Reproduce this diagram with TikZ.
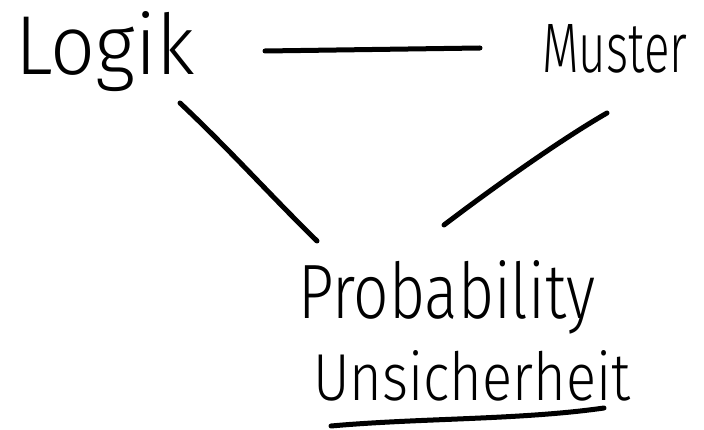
\documentclass[tikz,border=0pt]{standalone}
\usepackage{fontspec}
\setmainfont{Fira Sans}[UprightFont=* Light]
\usepackage{graphicx}
\newcommand{\handword}[3]{\resizebox{#1}{#2}{#3}}
\begin{document}
\begin{tikzpicture}[x=1pt,y=-1pt,
  lbl/.style={inner sep=0pt, anchor=base west},
  stroke/.style={line width=5pt, line cap=round, line join=round}]
\useasboundingbox (0,0) rectangle (704,430);
\node[lbl] (logik) at (15,75) {\handword{180pt}{63pt}{Logik}};
\node[lbl] (muster) at (542,73) {\handword{145pt}{48pt}{Muster}};
\node[lbl] (prob) at (298,318) {\handword{297pt}{58pt}{Probability}};
\node[lbl] (unsich) at (313,400) {\handword{317pt}{50pt}{Unsicherheit}};
\coordinate (a1) at (265,51);
\coordinate (a2) at (480,48);
\coordinate (b1) at (180,103);
\coordinate (b2) at (317,241);
\coordinate (c1) at (607,113);
\coordinate (c2) at (444,225);
\coordinate (u1) at (331,426);
\coordinate (u2) at (604,408);
\draw[stroke] (a1) -- (a2);
\draw[stroke] (b1) .. controls (230,150) and (270,195) .. (b2);
\draw[stroke] (c1) .. controls (560,140) and (490,190) .. (c2);
\draw[stroke] (u1) .. controls (420,418) and (520,420) .. (u2);
\end{tikzpicture}
\end{document}
